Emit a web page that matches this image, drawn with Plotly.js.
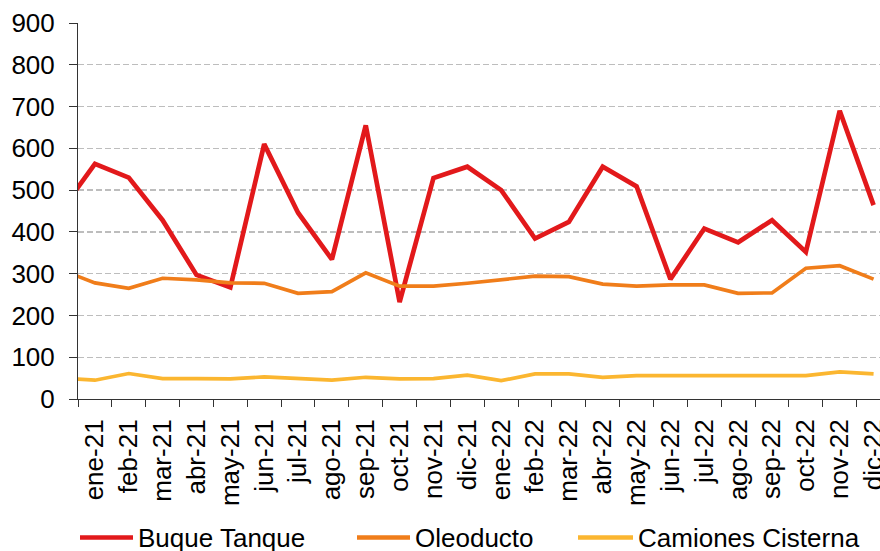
<!DOCTYPE html>
<html>
<head>
<meta charset="utf-8">
<script src="https://cdn.plot.ly/plotly-3.0.1.min.js"></script>
<style>
html,body{margin:0;padding:0;overflow:hidden;background:#fff;}
#chart{width:880px;height:551px;}
</style>
</head>
<body>
<div id="chart"></div>
<script>
// Months (dic-20 is only partly visible at the left edge of the original)
const months = ['dic-20','ene-21','feb-21','mar-21','abr-21','may-21','jun-21','jul-21','ago-21','sep-21','oct-21','nov-21','dic-21',
  'ene-22','feb-22','mar-22','abr-22','may-22','jun-22','jul-22','ago-22','sep-22','oct-22','nov-22','dic-22'];

const buqueTanque = [451,563,530,428,297,267,610,446,334,655,232,529,556,500,384,424,556,509,287,408,375,428,352,690,464];
const oleoducto   = [309,278,265,289,285,278,277,253,257,302,270,270,277,286,294,293,275,270,273,273,253,254,313,319,287];
const camiones    = [50,45,61,49,49,48,53,48,45,52,48,49,57,44,60,60,52,56,56,55,56,56,56,65,60];

const seriesNames = ['Buque Tanque','Oleoducto','Camiones Cisterna'];
const seriesColors = ['#E2191B','#F07D1A','#FBB630'];
const seriesWidths = [4.7,3.7,3.7];
const seriesData = [buqueTanque, oleoducto, camiones];

const yTicks = [0,100,200,300,400,500,600,700,800,900];

const traces = seriesData.map((vals,i)=>({
  type:'scatter', mode:'lines', x:months, y:vals, name:seriesNames[i],
  line:{color:seriesColors[i], width:seriesWidths[i]}, showlegend:false, hoverinfo:'skip', cliponaxis:true
}));

// Custom legend (paper coordinates)
const W = 802, H = 376, L = 78, T = 23;
const px = x => (x - L)/W;
const py = y => (T + H - y)/H;
const legendItems = [
  {x0:80, x1:133, tx:136},
  {x0:357, x1:410, tx:413},
  {x0:578, x1:633, tx:636}
];
const legY = 537.5;
const shapes = legendItems.map((it,i)=>({
  type:'line', xref:'paper', yref:'paper', x0:px(it.x0), x1:px(it.x1), y0:py(legY), y1:py(legY),
  line:{color:seriesColors[i], width:4.5}
}));
const annotations = legendItems.map((it,i)=>({
  xref:'paper', yref:'paper', x:px(it.tx), y:py(legY+0.5), xanchor:'left', yanchor:'middle',
  text:seriesNames[i], showarrow:false, font:{family:'Liberation Sans, Arial, sans-serif', size:26, color:'#000'}
}));

const layout = {
  width:880, height:551,
  margin:{l:L, r:0, t:T, b:551-T-H, pad:0},
  paper_bgcolor:'#fff', plot_bgcolor:'#fff',
  font:{family:'Liberation Sans, Arial, sans-serif', size:26, color:'#000'},
  showlegend:false,
  xaxis:{
    type:'category', categoryorder:'array', categoryarray:months,
    range:[0.5, 24.19], tickson:'boundaries', ticks:'outside', ticklen:7, tickwidth:1, tickcolor:'#333',
    showline:true, linecolor:'#333', linewidth:1, showgrid:false, zeroline:false,
    tickangle:-90, tickfont:{size:26, color:'#000'}, ticklabelstandoff:9, fixedrange:true
  },
  yaxis:{
    range:[0,900], tickvals:yTicks, ticktext:yTicks.map(String),
    ticks:'outside', ticklen:8, tickwidth:1, tickcolor:'#333',
    showline:true, linecolor:'#333', linewidth:1,
    showgrid:true, gridcolor:'#bdbdbd', gridwidth:1.3, griddash:'6px,3px',
    zeroline:false, tickfont:{size:26, color:'#000'}, ticklabelstandoff:9, fixedrange:true
  },
  shapes:shapes,
  annotations:annotations
};

Plotly.newPlot('chart', traces, layout, {displayModeBar:false, staticPlot:true});
</script>
</body>
</html>
